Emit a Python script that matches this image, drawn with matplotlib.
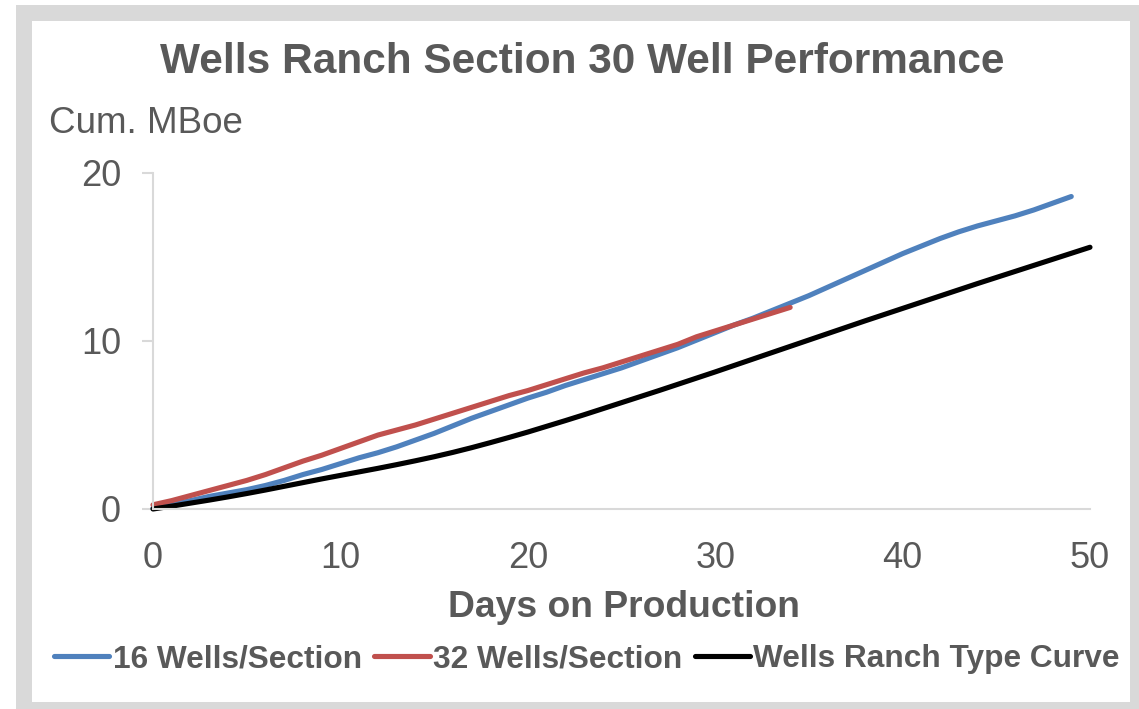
import matplotlib
matplotlib.use("Agg")
import matplotlib.pyplot as plt
from matplotlib.patches import Rectangle

plt.rcParams['font.family'] = ['Liberation Sans', 'DejaVu Sans']

# Cumulative production (MBoe) by day on production
days_16 = list(range(0, 50))
cum_16 = [0.05, 0.25, 0.5, 0.75, 0.95, 1.15, 1.4, 1.7, 2.05, 2.35,
          2.7, 3.05, 3.35, 3.7, 4.1, 4.5, 4.95, 5.4, 5.8, 6.2,
          6.6, 6.95, 7.35, 7.7, 8.05, 8.4, 8.8, 9.2, 9.6, 10.05,
          10.5, 10.95, 11.35, 11.8, 12.25, 12.7, 13.2, 13.7, 14.2, 14.7,
          15.2, 15.65, 16.1, 16.5, 16.85, 17.15, 17.45, 17.8, 18.2, 18.6]

days_32 = list(range(0, 35))
cum_32 = [0.25, 0.5, 0.8, 1.1, 1.4, 1.7, 2.05, 2.45, 2.85, 3.2,
          3.6, 4.0, 4.4, 4.7, 5.0, 5.35, 5.7, 6.05, 6.4, 6.75,
          7.05, 7.4, 7.75, 8.1, 8.4, 8.75, 9.1, 9.45, 9.8, 10.25,
          10.6, 10.95, 11.3, 11.65, 12.0]

days_tc = list(range(0, 51))
cum_tc = [0.0, 0.17, 0.35, 0.53, 0.72, 0.92, 1.13, 1.35, 1.57, 1.79,
          2.0, 2.21, 2.42, 2.64, 2.87, 3.11, 3.37, 3.65, 3.95, 4.26,
          4.58, 4.92, 5.26, 5.61, 5.97, 6.33, 6.69, 7.05, 7.42, 7.79,
          8.16, 8.54, 8.92, 9.3, 9.68, 10.06, 10.44, 10.82, 11.2, 11.57,
          11.94, 12.31, 12.68, 13.05, 13.42, 13.78, 14.14, 14.5, 14.86, 15.22,
          15.58]

series_labels = ["16 Wells/Section", "32 Wells/Section", "Wells Ranch Type Curve"]
series_colors = ["#4F81BD", "#C0504D", "#000000"]

x_ticks = [0, 10, 20, 30, 40, 50]
y_ticks = [0, 10, 20]

TEXT = "#595959"
AXIS = "#D9D9D9"

W, H = 1139, 709
fig = plt.figure(figsize=(W / 100, H / 100), dpi=100)

# grey frame around the chart
fig.patches.append(Rectangle((16 / W, 0), 1 - 16 / W, 1 - 5 / H,
                             transform=fig.transFigure, facecolor=AXIS,
                             edgecolor='none', zorder=-10))
fig.patches.append(Rectangle((32 / W, 7 / H), (1130 - 32) / W, (702 - 21) / H,
                             transform=fig.transFigure, facecolor='white',
                             edgecolor='none', zorder=-9))

left, right = 153 / W, 1090 / W
bottom, top = 1 - 509 / H, 1 - 173 / H
ax = fig.add_axes([left, bottom, right - left, top - bottom])
ax.set_facecolor('none')

for d, v, lab, col in zip([days_16, days_32, days_tc],
                          [cum_16, cum_32, cum_tc],
                          series_labels, series_colors):
    ax.plot(d, v, color=col, lw=3.7, label=lab, solid_capstyle='round',
            solid_joinstyle='round', clip_on=False)

ax.set_xlim(0, 50)
ax.set_ylim(0, 20)
ax.set_xticks(x_ticks)
ax.set_yticks(y_ticks)
ax.set_xticklabels([str(t) for t in x_ticks])
ax.set_yticklabels([str(t) for t in y_ticks])

for s in ['top', 'right']:
    ax.spines[s].set_visible(False)
for s in ['left', 'bottom']:
    ax.spines[s].set_color(AXIS)
    ax.spines[s].set_linewidth(1.5)

ax.tick_params(axis='y', direction='out', length=8, width=1.5, color=AXIS,
               pad=15, labelsize=26, labelcolor=TEXT)
ax.tick_params(axis='x', length=0, pad=23, labelsize=26, labelcolor=TEXT)

fig.text(582 / W, 1 - 73 / H, "Wells Ranch Section 30 Well Performance",
         ha='center', va='baseline', fontsize=30.5, fontweight='bold', color=TEXT)
fig.text(49 / W, 1 - 133 / H, "Cum. MBoe", ha='left', va='baseline',
         fontsize=26.5, color=TEXT)
fig.text(624 / W, 1 - 617 / H, "Days on Production", ha='center', va='baseline',
         fontsize=26.8, fontweight='bold', color=TEXT)

handles, labels = ax.get_legend_handles_labels()
leg = fig.legend(handles, labels, loc='center', bbox_to_anchor=(587 / W, 1 - 659 / H),
                 ncol=3, frameon=False, handlelength=1.75, handletextpad=0.1,
                 columnspacing=0.4, borderpad=0, borderaxespad=0,
                 prop={'weight': 'bold', 'size': 22.8}, labelcolor=TEXT)
for line in leg.get_lines():
    line.set_linewidth(3.7)

fig.savefig("out.png", dpi=100)
